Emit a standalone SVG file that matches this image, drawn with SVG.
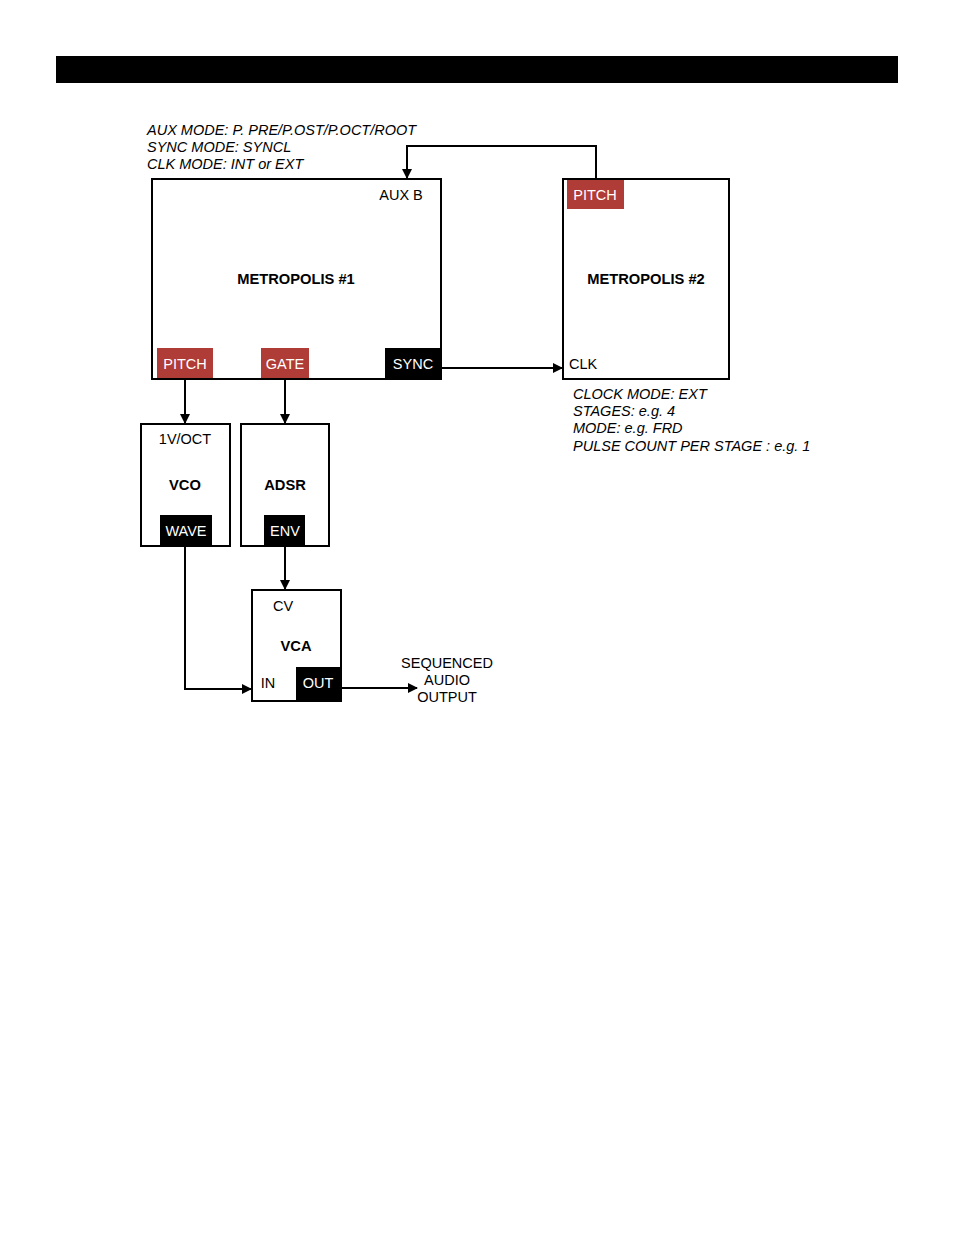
<svg xmlns="http://www.w3.org/2000/svg" width="954" height="1235" viewBox="0 0 954 1235">
<style>
text{font-family:"Liberation Sans",Arial,sans-serif;font-size:14.5px;fill:#000}
.b{font-weight:bold;font-size:14.7px}
.i{font-style:italic}
.w{fill:#fff}
.box{fill:#fff;stroke:#000;stroke-width:2}
.red{fill:#b03c37}
.blk{fill:#000}
.c{fill:none;stroke:#000;stroke-width:2}
</style>
<defs>
<marker id="ah" markerWidth="10" markerHeight="10" refX="9" refY="5" orient="auto" markerUnits="userSpaceOnUse"><path d="M0,0 L10,5 L0,10 z" fill="#000"/></marker>
</defs>
<rect x="56" y="56" width="842" height="27" fill="#000"/>
<g id="notes1">
<text x="147" y="135" class="i">AUX MODE: P. PRE/P.OST/P.OCT/ROOT</text>
<text x="147" y="152" class="i">SYNC MODE: SYNCL</text>
<text x="147" y="169" class="i">CLK MODE: INT or EXT</text>
</g>
<g id="metropolis1">
<rect class="box" x="152" y="179" width="289" height="200"/>
<text x="401" y="200" text-anchor="middle">AUX B</text>
<text x="296" y="284" text-anchor="middle" class="b">METROPOLIS #1</text>
<rect class="red" x="157" y="348" width="56" height="30"/>
<text x="185" y="369" text-anchor="middle" class="w">PITCH</text>
<rect class="red" x="261" y="348" width="48" height="30"/>
<text x="285" y="369" text-anchor="middle" class="w">GATE</text>
<rect class="blk" x="385" y="348" width="56" height="31"/>
<text x="413" y="369" text-anchor="middle" class="w">SYNC</text>
</g>
<g id="metropolis2">
<rect class="box" x="563" y="179" width="166" height="200"/>
<rect class="red" x="567" y="180" width="57" height="29"/>
<text x="595" y="200" text-anchor="middle" class="w">PITCH</text>
<text x="646" y="284" text-anchor="middle" class="b">METROPOLIS #2</text>
<text x="569" y="369">CLK</text>
</g>
<g id="notes2">
<text x="573" y="399" class="i">CLOCK MODE: EXT</text>
<text x="573" y="416" class="i">STAGES: e.g. 4</text>
<text x="573" y="433" class="i">MODE: e.g. FRD</text>
<text x="573" y="451" class="i">PULSE COUNT PER STAGE : e.g. 1</text>
</g>
<g id="vco">
<rect class="box" x="141" y="424" width="89" height="122"/>
<text x="185" y="444" text-anchor="middle">1V/OCT</text>
<text x="185" y="490" text-anchor="middle" class="b">VCO</text>
<rect class="blk" x="160" y="515" width="52" height="31"/>
<text x="186" y="536" text-anchor="middle" class="w">WAVE</text>
</g>
<g id="adsr">
<rect class="box" x="241" y="424" width="88" height="122"/>
<text x="285" y="490" text-anchor="middle" class="b">ADSR</text>
<rect class="blk" x="264" y="515" width="41" height="31"/>
<text x="285" y="536" text-anchor="middle" class="w">ENV</text>
</g>
<g id="vca">
<rect class="box" x="252" y="590" width="89" height="111"/>
<text x="283" y="611" text-anchor="middle">CV</text>
<text x="296" y="651" text-anchor="middle" class="b">VCA</text>
<text x="268" y="688" text-anchor="middle">IN</text>
<rect class="blk" x="296" y="667" width="45" height="33"/>
<text x="318" y="688" text-anchor="middle" class="w">OUT</text>
</g>
<g id="output">
<text x="447" y="668" text-anchor="middle">SEQUENCED</text>
<text x="447" y="685" text-anchor="middle">AUDIO</text>
<text x="447" y="702" text-anchor="middle">OUTPUT</text>
</g>
<g id="connectors">
<path class="c" d="M596,179 V146 H407 V178" marker-end="url(#ah)"/>
<path class="c" d="M441,368 H562" marker-end="url(#ah)"/>
<path class="c" d="M185,379 V423" marker-end="url(#ah)"/>
<path class="c" d="M285,379 V423" marker-end="url(#ah)"/>
<path class="c" d="M285,546 V589" marker-end="url(#ah)"/>
<path class="c" d="M185,546 V689 H251" marker-end="url(#ah)"/>
<path class="c" d="M341,688 H417" marker-end="url(#ah)"/>
</g>
</svg>
